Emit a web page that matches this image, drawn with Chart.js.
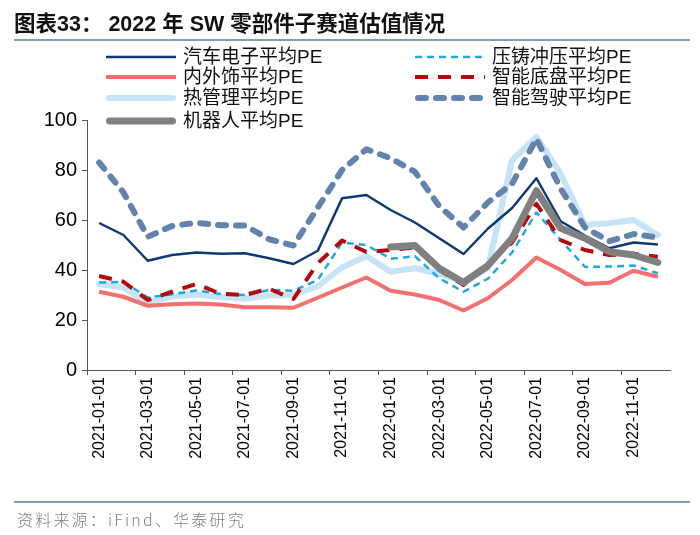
<!DOCTYPE html>
<html>
<head>
<meta charset="utf-8">
<script src="https://cdn.jsdelivr.net/npm/chart.js@4.4.0/dist/chart.umd.min.js"></script>
<style>
  html, body { margin: 0; padding: 0; background: #fff; }
  #wrap { position: relative; width: 700px; height: 535px; overflow: hidden; font-family: "Liberation Sans", Arial, "Noto Sans CJK SC", sans-serif; }
  #c { position: absolute; left: 0; top: 0; }
  .title { position: absolute; left: 14px; top: 6px; font-size: 21.5px; font-weight: bold; color: #111; white-space: nowrap; }
  .rule { position: absolute; left: 14px; width: 676px; background: #7f9cb8; }
  .source { position: absolute; left: 17px; top: 507px; font-size: 16px; color: #808080; letter-spacing: 2.2px; white-space: nowrap; font-family: "Noto Sans CJK SC", "Liberation Sans", sans-serif; font-weight: 300; }
  .leg { position: absolute; font-size: 19px; color: #111; white-space: nowrap; line-height: 20px; }
  .leg svg { position: absolute; left: 0; top: 0; }
  .leg span { position: absolute; top: 0; }
</style>
</head>
<body>
<div id="wrap">
  <canvas id="c" width="700" height="535"></canvas>
  <div class="title">图表33： 2022 年 SW 零部件子赛道估值情况</div>
  <div class="rule" style="top:39px;height:2px;"></div>
  <div class="rule" style="top:501px;height:1.5px;"></div>
  <div class="source">资料来源：iFind、华泰研究</div>
  <div id="legend"></div>
</div>
<script>
// ---- data ----
const months = ['2021-01-01','2021-02-01','2021-03-01','2021-04-01','2021-05-01','2021-06-01',
                '2021-07-01','2021-08-01','2021-09-01','2021-10-01','2021-11-01','2021-12-01',
                '2022-01-01','2022-02-01','2022-03-01','2022-04-01','2022-05-01','2022-06-01',
                '2022-07-01','2022-08-01','2022-09-01','2022-10-01','2022-11-01','2022-12-01'];
const autoElec = [58.8, 54, 43.7, 46, 47, 46.5, 46.7, 44.7, 42.4, 47.7, 68.7, 70, 64, 59, 52.7, 46.4, 56.5, 64.8, 76.7, 59.5, 53.8, 48.7, 51, 50.2];
const interior = [31.3, 29.3, 25.7, 26.3, 26.6, 26.2, 25.1, 25.1, 24.9, 28.9, 33, 37, 31.7, 30.2, 28, 23.8, 28.7, 36, 45, 40, 34.4, 34.9, 39.7, 37.3];
const thermal  = [34.4, 33, 26.9, 29.5, 30.2, 29.2, 28.5, 29.8, 30, 33.5, 41, 45.6, 39.3, 40.7, 38.5, 35.3, 40.7, 84, 93.3, 78.5, 58, 58.7, 60, 54];
const robot    = [null, null, null, null, null, null, null, null, null, null, null, null, 49.2, 49.8, 40.7, 35, 41.7, 52.7, 71.7, 56.7, 52.7, 47.3, 46, 43];
const casting  = [35, 35.2, 29, 30.3, 31.8, 30.4, 30, 32, 31.7, 36, 51, 50, 44.5, 45.5, 36.7, 31.3, 36.5, 47, 63, 52, 41.2, 41.4, 41.8, 38.7];
const chassis  = [37.6, 35.3, 28, 31.3, 34.4, 30.5, 30, 32.5, 28.4, 42.7, 51.8, 47.2, 48, 49, 40, 34, 42.5, 51, 66.5, 52, 48, 46, 46.5, 45.3];
const adas     = [83, 71, 53.3, 57.6, 58.9, 57.9, 57.8, 52.3, 49.8, 65, 80, 88.3, 84.7, 79.3, 65.5, 57, 67, 74.5, 92.5, 72.5, 57, 51.5, 54.4, 53];
const yTicks = [0, 20, 40, 60, 80, 100];

// ---- styles ----
const S = {
  autoElec: { label: '汽车电子平均PE', color: '#0d3a74', width: 2.5, dash: [], cap: 'butt' },
  interior: { label: '内外饰平均PE',   color: '#f4706f', width: 4,   dash: [], cap: 'butt' },
  thermal:  { label: '热管理平均PE',   color: '#c6e4f6', width: 6,   dash: [], cap: 'round' },
  robot:    { label: '机器人平均PE',   color: '#808080', width: 7,   dash: [], cap: 'round' },
  casting:  { label: '压铸冲压平均PE', color: '#1fa9df', width: 2.5, dash: [7, 5], cap: 'butt' },
  chassis:  { label: '智能底盘平均PE', color: '#b5080d', width: 4,   dash: [13, 10], cap: 'butt' },
  adas:     { label: '智能驾驶平均PE', color: '#6383ad', width: 6,   dash: [8, 10], cap: 'round' }
};
const dataMap = { autoElec, interior, thermal, robot, casting, chassis, adas };

// drawing order: first = on top
const drawOrder = ['robot', 'adas', 'chassis', 'casting', 'autoElec', 'interior', 'thermal'];
const datasets = drawOrder.map(k => ({
  label: S[k].label,
  data: dataMap[k],
  borderColor: S[k].color,
  backgroundColor: S[k].color,
  borderWidth: S[k].width,
  borderDash: S[k].dash,
  borderCapStyle: S[k].cap,
  borderJoinStyle: 'round',
  pointRadius: 0,
  pointHoverRadius: 0,
  tension: 0,
  fill: false,
  spanGaps: false
}));

const tickFont = { family: '"Liberation Sans", Arial, sans-serif', size: 16 };
const axisColor = '#555';

new Chart(document.getElementById('c'), {
  type: 'line',
  data: { labels: months, datasets },
  options: {
    responsive: false,
    animation: false,
    events: [],
    layout: { padding: { left: 0, right: 30, top: 120, bottom: 0 } },
    plugins: { legend: { display: false }, tooltip: { enabled: false }, title: { display: false } },
    scales: {
      x: {
        type: 'category',
        offset: true,
        grid: {
          offset: true,
          drawOnChartArea: false,
          drawTicks: true,
          tickLength: 5,
          color: ctx => (ctx.index % 2 === 0 ? axisColor : 'rgba(0,0,0,0)')
        },
        border: { display: true, color: axisColor, width: 1 },
        ticks: {
          autoSkip: false,
          minRotation: 90,
          maxRotation: 90,
          padding: 2,
          color: '#000',
          font: tickFont,
          callback: (v, i) => (i % 2 === 0 ? months[i] : '')
        },
        afterFit: s => { s.height = 165; }
      },
      y: {
        min: 0,
        max: 100,
        afterBuildTicks: s => { s.ticks = yTicks.map(v => ({ value: v })); },
        grid: { drawOnChartArea: false, drawTicks: true, tickLength: 5, color: axisColor },
        border: { display: true, color: axisColor, width: 1 },
        ticks: { color: '#000', font: { family: '"Liberation Sans", Arial, sans-serif', size: 20 }, padding: 5 },
        afterFit: s => { s.width = 87; }
      }
    }
  }
});

// ---- legend (HTML) ----
const legendItems = [
  { k: 'autoElec', x: 106, y: 47 },
  { k: 'interior', x: 106, y: 67 },
  { k: 'thermal',  x: 106, y: 88 },
  { k: 'robot',    x: 106, y: 111 },
  { k: 'casting',  x: 415, y: 47 },
  { k: 'chassis',  x: 415, y: 67 },
  { k: 'adas',     x: 415, y: 88 }
];
const legend = document.getElementById('legend');
legendItems.forEach(it => {
  const st = S[it.k];
  const d = document.createElement('div');
  d.className = 'leg';
  d.style.left = it.x + 'px';
  d.style.top = it.y + 'px';
  d.style.width = '260px';
  d.style.height = '20px';
  const pad = st.cap === 'round' ? st.width / 2 : 0;
  d.innerHTML =
    '<svg width="72" height="20"><line x1="' + pad + '" y1="10" x2="' + (70 - pad) + '" y2="10" stroke="' + st.color +
    '" stroke-width="' + st.width + '" stroke-linecap="' + st.cap + '"' +
    (st.dash.length ? ' stroke-dasharray="' + st.dash.join(' ') + '"' : '') + '/></svg>' +
    '<span style="left:77px">' + st.label + '</span>';
  legend.appendChild(d);
});
</script>
</body>
</html>
